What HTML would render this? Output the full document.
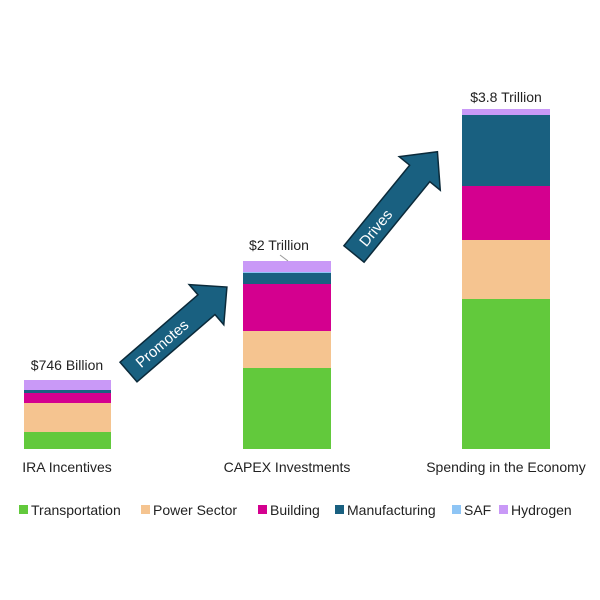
<!DOCTYPE html>
<html><head><style>body{margin:0;background:#fff}svg{display:block;font-family:"Liberation Sans",sans-serif}</style></head><body>
<svg width="600" height="600" viewBox="0 0 600 600">
<rect x="24" y="432" width="87" height="17" fill="#62c93c"/>
<rect x="24" y="403" width="87" height="29" fill="#f5c490"/>
<rect x="24" y="393" width="87" height="10" fill="#d4008f"/>
<rect x="24" y="390" width="87" height="3" fill="#196080"/>
<rect x="24" y="380" width="87" height="10" fill="#c999f7"/>
<rect x="243" y="368" width="88" height="81" fill="#62c93c"/>
<rect x="243" y="331" width="88" height="37" fill="#f5c490"/>
<rect x="243" y="284" width="88" height="47" fill="#d4008f"/>
<rect x="243" y="273" width="88" height="11" fill="#196080"/>
<rect x="243" y="272" width="88" height="1" fill="#8ec5f5"/>
<rect x="243" y="261" width="88" height="11" fill="#c999f7"/>
<rect x="462" y="299" width="88" height="150" fill="#62c93c"/>
<rect x="462" y="240" width="88" height="59" fill="#f5c490"/>
<rect x="462" y="186" width="88" height="54" fill="#d4008f"/>
<rect x="462" y="115" width="88" height="71" fill="#196080"/>
<rect x="462" y="109" width="88" height="6" fill="#c999f7"/>
<g font-size="14" fill="#222" text-anchor="middle">
<text x="67" y="370">$746 Billion</text>
<text x="279" y="250">$2 Trillion</text>
<text x="506" y="102">$3.8 Trillion</text>
<text x="67" y="472">IRA Incentives</text>
<text x="287" y="472">CAPEX Investments</text>
<text x="506" y="472">Spending in the Economy</text>
</g>
<line x1="280" y1="255" x2="288" y2="261" stroke="#999" stroke-width="1"/>
<g transform="translate(128.5,372) rotate(-40.8)">
<polygon points="0,-13 103,-13 103,-26.5 130,0 103,26.5 103,13 0,13" fill="#196080" stroke="#0b2a3a" stroke-width="1.5"/>
<text x="44" y="5.5" font-size="15" fill="#fff" text-anchor="middle">Promotes</text>
</g>
<g transform="translate(354,254) rotate(-50.8)">
<polygon points="0,-13 104,-13 104,-26.5 132,0 104,26.5 104,13 0,13" fill="#196080" stroke="#0b2a3a" stroke-width="1.5"/>
<text x="34" y="5.5" font-size="15" fill="#fff" text-anchor="middle">Drives</text>
</g>
<g font-size="14" fill="#222">
<rect x="19" y="505" width="9" height="9" fill="#62c93c"/><text x="31" y="515">Transportation</text>
<rect x="141" y="505" width="9" height="9" fill="#f5c490"/><text x="153" y="515">Power Sector</text>
<rect x="258" y="505" width="9" height="9" fill="#d4008f"/><text x="270" y="515">Building</text>
<rect x="335" y="505" width="9" height="9" fill="#196080"/><text x="347" y="515">Manufacturing</text>
<rect x="452" y="505" width="9" height="9" fill="#8ec5f5"/><text x="464" y="515">SAF</text>
<rect x="499" y="505" width="9" height="9" fill="#c999f7"/><text x="511" y="515">Hydrogen</text>
</g>
</svg>
</body></html>
